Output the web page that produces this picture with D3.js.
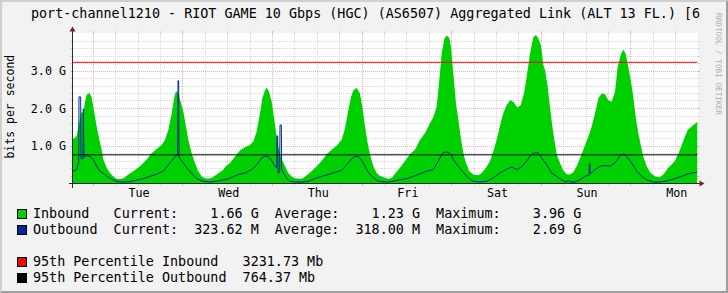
<!DOCTYPE html>
<html>
<head>
<meta charset="utf-8">
<script src="https://cdn.jsdelivr.net/npm/d3@7"></script>
<style>
    body { margin: 0; background: #f2f2f2; }
    svg { display: block; }
    text { font-family: "DejaVu Sans Mono", monospace; }
</style>
</head>
<body>
<div id="chart"></div>
<script>
const title = "port-channel1210 - RIOT GAME 10 Gbps (HGC) (AS6507) Aggregated Link (ALT 13 FL.) [6";
const unitLabel = "bits per second";
const watermark = "RRDTOOL / TOBI OETIKER";

// [hours from Tuesday 00:00, Gbit/s]
const inbound = [
    [-5.57, 1.15], [-5.35, 1.18], [-4.45, 1.27], [-3.56, 1.74], [-3.12, 1.92], [-2.67, 1.87], [-2.22, 2.18],
    [-1.78, 2.36], [-1.06, 2.42], [-0.44, 2.31], [0.01, 2.05], [0.46, 1.78], [0.90, 1.52], [1.62, 1.17],
    [2.24, 0.90], [2.69, 0.64], [3.58, 0.42], [4.47, 0.28], [5.37, 0.19], [6.26, 0.13], [7.60, 0.12],
    [8.49, 0.17], [9.38, 0.24], [10.72, 0.33], [12.51, 0.46], [14.30, 0.64], [15.63, 0.81], [16.97, 0.92],
    [18.31, 1.03], [19.21, 1.17], [20.10, 1.43], [20.99, 1.87], [21.62, 2.27], [22.15, 2.47], [22.78, 2.40],
    [23.40, 2.18], [24.12, 1.92], [24.83, 1.52], [25.45, 1.17], [26.35, 0.81], [27.24, 0.55], [28.13, 0.33],
    [29.03, 0.19], [30.37, 0.13], [31.71, 0.15], [33.05, 0.24], [34.83, 0.37],
    [35.28, 0.44], [36.62, 0.55], [37.96, 0.72], [39.29, 0.88], [40.63, 0.97], [41.97, 1.03], [42.87, 1.12],
    [43.76, 1.39], [44.65, 1.87], [45.28, 2.27], [45.99, 2.49], [46.44, 2.56], [47.06, 2.45], [47.78, 2.18],
    [48.49, 1.70], [49.12, 1.25], [49.56, 0.99], [50.46, 0.64], [51.35, 0.46], [52.24, 0.28], [53.13, 0.19],
    [54.03, 0.14], [55.37, 0.13], [56.26, 0.15], [57.15, 0.22], [58.49, 0.33], [59.83, 0.46], [61.17, 0.60],
    [62.51, 0.78], [63.85, 0.90], [65.19, 1.01], [66.53, 1.17], [67.42, 1.47], [68.31, 1.96], [69.03, 2.31],
    [69.65, 2.49], [70.55, 2.55], [71.44, 2.40], [72.06, 2.05], [72.78, 1.52], [73.49, 1.08], [74.12, 0.78],
    [75.01, 0.46], [75.90, 0.28],
    [76.80, 0.20], [77.69, 0.17], [79.03, 0.13], [79.92, 0.15], [80.81, 0.26], [82.15, 0.42], [83.49, 0.60],
    [84.83, 0.78], [86.17, 0.90], [87.51, 1.17], [88.85, 1.34], [90.19, 1.61], [91.08, 1.77], [91.98, 2.05],
    [92.69, 2.76], [93.31, 3.46], [94.03, 3.86], [94.65, 3.95], [95.37, 3.88], [95.81, 3.64], [96.44, 2.93],
    [97.15, 2.14], [97.78, 1.70], [98.40, 1.25], [99.12, 0.81], [99.83, 0.55], [100.72, 0.33], [101.80, 0.24],
    [103.13, 0.22], [104.03, 0.28], [105.19, 0.42], [106.26, 0.60], [107.15, 0.86], [108.05, 1.17], [108.76, 1.47],
    [109.65, 1.82], [110.55, 2.06], [111.62, 2.22], [112.51, 2.18], [113.58, 2.03], [114.48, 2.09], [115.37, 2.40],
    [116.08, 2.84], [116.97, 3.46], [117.86, 3.90], [118.58, 3.96],
    [119.21, 3.87], [119.92, 3.68], [120.55, 3.16], [120.99, 3.03], [121.71, 2.58], [122.33, 2.05], [122.96, 1.52],
    [123.49, 1.17], [124.12, 0.78], [125.01, 0.55], [125.90, 0.35], [126.80, 0.25], [127.69, 0.24], [128.58, 0.30],
    [129.48, 0.46], [130.81, 0.78], [131.71, 1.03], [132.60, 1.25], [133.49, 1.52], [134.38, 1.87], [135.28, 2.27],
    [136.17, 2.40], [137.06, 2.38], [137.96, 2.22], [138.85, 2.18], [139.74, 2.44], [140.46, 3.11], [141.35, 3.46],
    [141.97, 3.57], [142.60, 3.46], [143.31, 3.11], [144.03, 2.71], [144.65, 2.31], [145.28, 1.78], [145.99, 1.34],
    [146.71, 0.99], [147.33, 0.72], [148.22, 0.46], [149.12, 0.30], [150.46, 0.19], [151.80, 0.17], [152.69, 0.24],
    [154.03, 0.42], [155.81, 0.60], [157.15, 0.90], [158.31, 1.21], [159.21, 1.43], [160.28, 1.52], [161.62, 1.63],
    [161.84, 1.66]
];

const outbound = [
    [-5.57, 0.33], [-5.35, 0.33], [-4.45, 0.37], [-4.01, 0.55], [-3.90, 0.55], [-3.83, 2.31], [-3.38, 2.31],
    [-3.29, 0.66], [-2.76, 0.66], [-2.67, 1.99], [-2.49, 0.70], [-2.22, 0.72], [-1.78, 0.74], [-0.88, 0.72],
    [0.01, 0.64], [0.90, 0.46], [1.79, 0.33], [2.69, 0.27], [4.03, 0.17], [5.37, 0.09], [6.70, 0.05],
    [8.04, 0.04], [9.83, 0.05], [11.62, 0.09], [13.40, 0.13], [15.19, 0.19], [16.97, 0.25], [18.76, 0.33],
    [20.10, 0.50], [21.44, 0.66], [22.15, 0.74], [22.60, 0.76], [22.69, 2.74], [22.87, 2.74], [22.96, 0.72],
    [23.22, 0.66], [24.12, 0.55], [25.01, 0.42], [26.35, 0.27], [27.69, 0.13], [29.47, 0.06], [31.26, 0.04],
    [33.05, 0.06], [34.83, 0.10], [35.28, 0.10], [36.62, 0.14], [38.85, 0.24], [40.63, 0.28], [42.42, 0.37],
    [43.76, 0.50], [44.92, 0.66], [45.81, 0.72], [46.71, 0.72], [47.60, 0.64], [48.67, 0.46], [49.12, 0.42],
    [49.21, 1.27], [49.39, 1.27], [49.48, 0.28], [49.92, 0.30], [50.01, 1.56], [50.37, 1.56], [50.46, 0.40],
    [50.90, 0.28], [51.80, 0.15], [52.69, 0.06], [54.03, 0.04], [55.81, 0.04], [57.60, 0.06], [59.38, 0.13],
    [61.17, 0.19], [62.96, 0.24], [64.74, 0.30], [66.53, 0.35], [67.87, 0.50], [69.21, 0.66], [70.10, 0.72],
    [70.99, 0.72], [71.89, 0.62], [72.78, 0.46], [73.67, 0.30], [75.01, 0.15], [76.35, 0.06], [78.58, 0.04],
    [80.37, 0.06], [82.15, 0.10], [83.94, 0.13], [85.72, 0.19], [87.51, 0.26], [89.30, 0.33], [91.08, 0.37],
    [92.42, 0.60], [93.76, 0.83], [94.65, 0.84], [95.73, 0.79], [96.44, 0.64], [97.78, 0.46], [99.12, 0.30],
    [100.46, 0.15], [101.80, 0.06], [103.58, 0.04], [105.37, 0.06], [107.15, 0.15], [108.94, 0.28], [110.73, 0.38],
    [112.06, 0.44], [113.40, 0.37], [114.74, 0.44], [116.08, 0.60], [117.42, 0.78], [118.58, 0.84], [119.21, 0.81],
    [120.10, 0.68], [121.44, 0.50], [122.78, 0.28], [124.12, 0.19], [125.46, 0.09], [126.80, 0.04], [127.24, 0.09],
    [127.69, 0.04], [129.03, 0.04], [130.37, 0.10], [131.71, 0.19], [132.60, 0.22], [132.78, 0.22], [132.87, 0.53],
    [133.04, 0.53], [133.13, 0.26], [134.38, 0.37], [135.72, 0.46], [137.06, 0.48], [138.40, 0.46], [139.74, 0.55],
    [141.08, 0.74], [141.97, 0.79], [142.87, 0.72], [144.21, 0.55], [145.55, 0.33], [146.89, 0.19], [148.22, 0.10],
    [150.01, 0.04], [152.24, 0.04], [154.03, 0.08], [155.81, 0.13], [157.60, 0.19], [159.39, 0.26], [161.62, 0.30],
    [161.84, 0.32]
];

const percentiles = [
    { value: 3.23173, color: "#FF0000" },  // 95th inbound
    { value: 0.76437, color: "#000000" }   // 95th outbound
];

const timeSpan = [-5.57, 161.84]; // hours from Tuesday 00:00
const yMax = 4;
const yTicks = [1, 2, 3];
const yTickLabels = ["1.0 G", "2.0 G", "3.0 G"];

const legendRows = [
    { color: "#00CF00", text: "Inbound   Current:    1.66 G  Average:    1.23 G  Maximum:    3.96 G", baseline: 218 },
    { color: "#002A97", text: "Outbound  Current:  323.62 M  Average:  318.00 M  Maximum:    2.69 G", baseline: 234 },
    { color: "#FF0000", text: "95th Percentile Inbound   3231.73 Mb", baseline: 266 },
    { color: "#000000", text: "95th Percentile Outbound  764.37 Mb", baseline: 282 }
];

const W = 728, H = 293;
const X0 = 72.5, X1 = 697.5, Y0 = 183.5, Y1 = 33.5;
const col = {
    back: "#f2f2f2", canvas: "#ffffff", shadeA: "#cfcfcf", shadeB: "#9e9e9e",
    grid: "#d6d6d6", mgrid: "#eeb4b4", axis: "#2a2a2a", arrow: "#801f1f",
    inbound: "#00CF00", outbound: "#002A97"
};

const base = new Date(2024, 0, 2); // a Tuesday
const toDate = h => new Date(base.getTime() + h * 3600e3);
const crisp = v => Math.floor(v) + 0.5;

const svg = d3.select("#chart").append("svg")
    .attr("width", W).attr("height", H);

// background with 3d border
svg.append("rect").attr("width", W).attr("height", H).attr("fill", col.back);
svg.append("path")
    .attr("d", `M0,${H}L2,${H - 2}L2,2L${W - 2},2L${W},0L0,0Z`)
    .attr("fill", col.shadeA);
svg.append("path")
    .attr("d", `M2,${H - 2}L${W - 2},${H - 2}L${W - 2},2L${W},0L${W},${H}L0,${H}Z`)
    .attr("fill", col.shadeB);

const x = d3.scaleTime()
    .domain(timeSpan.map(toDate))
    .range([X0, X1]);
const y = d3.scaleLinear()
    .domain([0, yMax])
    .range([Y0, Y1]);

svg.append("rect")
    .attr("x", X0).attr("y", Y1 - 0.5)
    .attr("width", X1 - X0 + 0.5).attr("height", Y0 - Y1 + 0.5)
    .attr("fill", col.canvas);

// grid
const grid = svg.append("g").attr("shape-rendering", "crispEdges");
const minorY = d3.range(1, yMax * 5).map(i => i / 5).filter(v => Math.abs(v - Math.round(v)) > 1e-6);
const hLines = minorY.map(v => ({ v, c: col.grid })).concat(yTicks.map(v => ({ v, c: col.mgrid })));
hLines.forEach(d => {
    const yy = crisp(y(d.v));
    grid.append("line").attr("x1", X0).attr("x2", X1).attr("y1", yy).attr("y2", yy)
        .attr("stroke", d.c).attr("stroke-dasharray", "1,1");
    grid.append("line").attr("x1", X0 - 2.5).attr("x2", X0).attr("y1", yy).attr("y2", yy).attr("stroke", d.c);
    grid.append("line").attr("x1", X1).attr("x2", X1 + 2.5).attr("y1", yy).attr("y2", yy).attr("stroke", d.c);
});

const [t0, t1] = x.domain();
const vLines = d3.timeHour.every(6).range(t0, t1)
    .map(t => ({ t, c: t.getHours() === 0 ? col.mgrid : col.grid }));
vLines.forEach(d => {
    const xx = crisp(x(d.t));
    grid.append("line").attr("x1", xx).attr("x2", xx).attr("y1", Y1).attr("y2", Y0)
        .attr("stroke", d.c).attr("stroke-dasharray", "1,1");
    grid.append("line").attr("x1", xx).attr("x2", xx).attr("y1", Y0).attr("y2", Y0 + 2.5).attr("stroke", d.c);
    grid.append("line").attr("x1", xx).attr("x2", xx).attr("y1", Y1 - 2.5).attr("y2", Y1).attr("stroke", d.c);
});

// data
svg.append("clipPath").attr("id", "canvas-clip")
    .append("rect").attr("x", X0).attr("y", Y1).attr("width", X1 - X0).attr("height", Y0 - Y1);
const plot = svg.append("g").attr("clip-path", "url(#canvas-clip)");

plot.append("path")
    .datum(inbound)
    .attr("fill", col.inbound)
    .attr("d", d3.area()
        .x(d => x(toDate(d[0])))
        .y0(y(0))
        .y1(d => y(d[1])));

plot.append("path")
    .datum(outbound)
    .attr("fill", "none")
    .attr("stroke", col.outbound)
    .attr("stroke-width", 1)
    .attr("d", d3.line()
        .x(d => x(toDate(d[0])))
        .y(d => y(d[1])));

percentiles.forEach(p => {
    plot.append("line")
        .attr("x1", X0).attr("x2", X1)
        .attr("y1", y(p.value)).attr("y2", y(p.value))
        .attr("stroke", p.color).attr("stroke-width", 1);
});

// axes + arrows
const axes = svg.append("g").attr("shape-rendering", "crispEdges");
axes.append("line").attr("x1", X0 - 4).attr("x2", X1 + 4).attr("y1", Y0).attr("y2", Y0).attr("stroke", col.axis);
axes.append("line").attr("x1", X0).attr("x2", X0).attr("y1", Y0 + 4).attr("y2", Y1 - 4).attr("stroke", col.axis);
svg.append("path")
    .attr("d", `M${X1 + 2},${Y0 - 3}L${X1 + 2},${Y0 + 3}L${X1 + 7},${Y0}Z`)
    .attr("fill", col.arrow);
svg.append("path")
    .attr("d", `M${X0 - 3},${Y1 - 2}L${X0 + 3},${Y1 - 2}L${X0},${Y1 - 7}Z`)
    .attr("fill", col.arrow);

// tick labels
svg.append("g").selectAll("text")
    .data(yTicks)
    .join("text")
    .attr("x", 66)
    .attr("y", d => y(d) + 4)
    .attr("text-anchor", "end")
    .attr("font-size", "11.7px")
    .text((d, i) => yTickLabels[i]);

const dayFmt = d3.timeFormat("%a");
svg.append("g").selectAll("text")
    .data(d3.timeDay.range(t0, t1).map(t => d3.timeHour.offset(t, 12)).filter(t => t < t1))
    .join("text")
    .attr("x", d => x(d) + 1)
    .attr("y", 197)
    .attr("text-anchor", "middle")
    .attr("font-size", "11.7px")
    .text(d => dayFmt(d));

// title, unit, watermark
svg.append("text")
    .attr("x", 31).attr("y", 18.3)
    .attr("font-size", "13.4px")
    .attr("xml:space", "preserve")
    .text(title);

svg.append("text")
    .attr("transform", "translate(14,106.7) rotate(-90)")
    .attr("text-anchor", "middle")
    .attr("font-size", "11.5px")
    .text(unitLabel);

svg.append("text")
    .attr("transform", "translate(716,13) rotate(90)")
    .attr("font-size", "7.7px")
    .attr("fill", "#ababab")
    .text(watermark);

// legend
const legend = svg.append("g");
legendRows.forEach(r => {
    legend.append("rect")
        .attr("x", 17.5).attr("y", r.baseline - 8.5)
        .attr("width", 9).attr("height", 9)
        .attr("fill", r.color)
        .attr("stroke", "#000").attr("stroke-width", 1)
        .attr("shape-rendering", "crispEdges");
    legend.append("text")
        .attr("x", 33).attr("y", r.baseline)
        .attr("font-size", "13.4px")
        .style("white-space", "pre")
        .text(r.text);
});
</script>
</body>
</html>
